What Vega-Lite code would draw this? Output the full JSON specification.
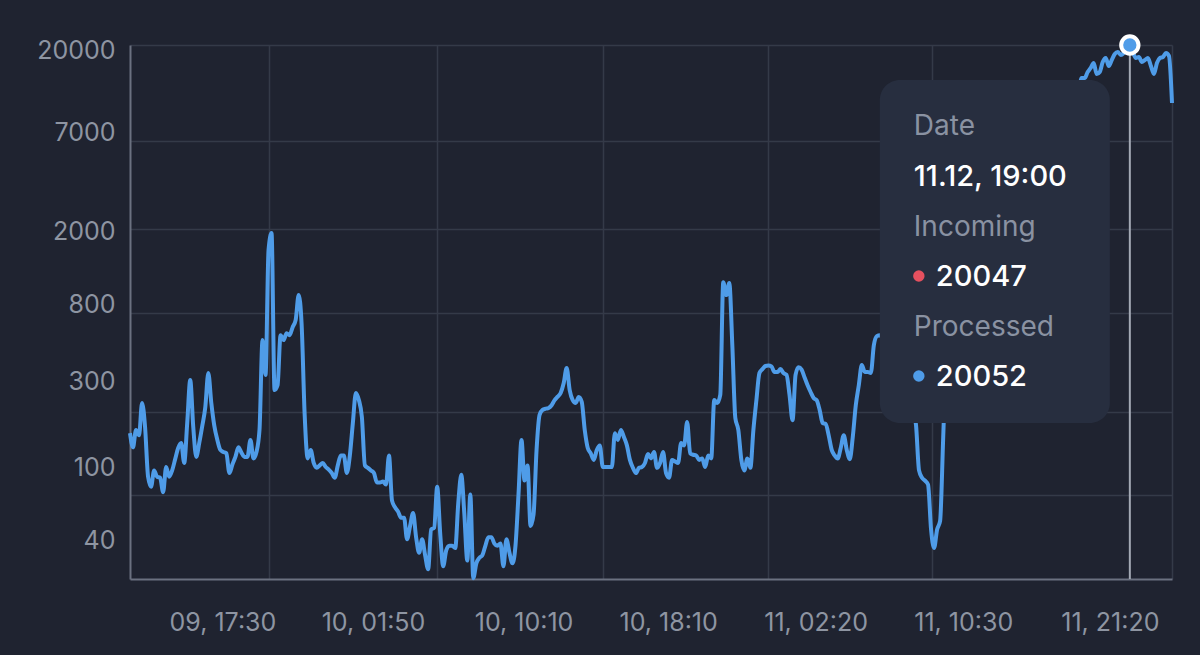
{
  "$schema": "https://vega.github.io/schema/vega-lite/v6.json",
  "width": 1042,
  "height": 534,
  "autosize": "none",
  "padding": {"left": 130, "top": 45, "right": 28, "bottom": 76},
  "background": "#1f2330",
  "config": {
    "view": {"stroke": null},
    "font": "Inter",
    "axis": {
      "labelFont": "Inter",
      "labelFontSize": 25,
      "labelColor": "#8e95a2",
      "gridColor": "#343a48",
      "gridWidth": 1.5,
      "domainColor": "#6b7180",
      "domainWidth": 2,
      "ticks": false,
      "tickSize": 0,
      "title": null
    }
  },
  "datasets": {
    "processed": [
      {"t": "2023-12-09T11:40", "v": 146}, {"t": "2023-12-09T11:50", "v": 122}, {"t": "2023-12-09T12:00", "v": 152},
      {"t": "2023-12-09T12:10", "v": 142}, {"t": "2023-12-09T12:20", "v": 214}, {"t": "2023-12-09T12:30", "v": 158},
      {"t": "2023-12-09T12:40", "v": 84}, {"t": "2023-12-09T12:50", "v": 74}, {"t": "2023-12-09T13:00", "v": 91},
      {"t": "2023-12-09T13:10", "v": 84}, {"t": "2023-12-09T13:20", "v": 83}, {"t": "2023-12-09T13:30", "v": 69},
      {"t": "2023-12-09T13:40", "v": 95}, {"t": "2023-12-09T13:50", "v": 84}, {"t": "2023-12-09T14:00", "v": 91},
      {"t": "2023-12-09T14:10", "v": 105}, {"t": "2023-12-09T14:20", "v": 121}, {"t": "2023-12-09T14:30", "v": 129},
      {"t": "2023-12-09T14:40", "v": 100}, {"t": "2023-12-09T14:50", "v": 166}, {"t": "2023-12-09T15:00", "v": 286},
      {"t": "2023-12-09T15:10", "v": 158}, {"t": "2023-12-09T15:20", "v": 108}, {"t": "2023-12-09T15:30", "v": 129},
      {"t": "2023-12-09T15:40", "v": 160}, {"t": "2023-12-09T15:50", "v": 203}, {"t": "2023-12-09T16:00", "v": 313},
      {"t": "2023-12-09T16:10", "v": 214}, {"t": "2023-12-09T16:20", "v": 160}, {"t": "2023-12-09T16:30", "v": 134},
      {"t": "2023-12-09T16:40", "v": 118}, {"t": "2023-12-09T16:50", "v": 115}, {"t": "2023-12-09T17:00", "v": 113},
      {"t": "2023-12-09T17:10", "v": 88}, {"t": "2023-12-09T17:20", "v": 98}, {"t": "2023-12-09T17:30", "v": 108},
      {"t": "2023-12-09T17:40", "v": 122}, {"t": "2023-12-09T17:50", "v": 114}, {"t": "2023-12-09T18:00", "v": 108},
      {"t": "2023-12-09T18:10", "v": 108}, {"t": "2023-12-09T18:20", "v": 134}, {"t": "2023-12-09T18:30", "v": 106},
      {"t": "2023-12-09T18:40", "v": 115}, {"t": "2023-12-09T18:50", "v": 152}, {"t": "2023-12-09T19:00", "v": 475},
      {"t": "2023-12-09T19:10", "v": 305}, {"t": "2023-12-09T19:20", "v": 1488}, {"t": "2023-12-09T19:30", "v": 1847},
      {"t": "2023-12-09T19:40", "v": 252}, {"t": "2023-12-09T19:50", "v": 268}, {"t": "2023-12-09T20:00", "v": 506},
      {"t": "2023-12-09T20:10", "v": 475}, {"t": "2023-12-09T20:20", "v": 519}, {"t": "2023-12-09T20:30", "v": 506},
      {"t": "2023-12-09T20:40", "v": 560}, {"t": "2023-12-09T20:50", "v": 612}, {"t": "2023-12-09T21:00", "v": 841},
      {"t": "2023-12-09T21:10", "v": 575}, {"t": "2023-12-09T21:20", "v": 184}, {"t": "2023-12-09T21:30", "v": 106},
      {"t": "2023-12-09T21:40", "v": 118}, {"t": "2023-12-09T21:50", "v": 100}, {"t": "2023-12-09T22:00", "v": 94},
      {"t": "2023-12-09T22:10", "v": 97}, {"t": "2023-12-09T22:20", "v": 100}, {"t": "2023-12-09T22:30", "v": 95},
      {"t": "2023-12-09T22:40", "v": 92}, {"t": "2023-12-09T22:50", "v": 88}, {"t": "2023-12-09T23:00", "v": 83},
      {"t": "2023-12-09T23:10", "v": 97}, {"t": "2023-12-09T23:20", "v": 110}, {"t": "2023-12-09T23:30", "v": 110},
      {"t": "2023-12-09T23:40", "v": 88}, {"t": "2023-12-09T23:50", "v": 110},
      {"t": "2023-12-10T00:00", "v": 166}, {"t": "2023-12-10T00:10", "v": 243}, {"t": "2023-12-10T00:20", "v": 222},
      {"t": "2023-12-10T00:30", "v": 179}, {"t": "2023-12-10T00:40", "v": 97}, {"t": "2023-12-10T00:50", "v": 94},
      {"t": "2023-12-10T01:00", "v": 91}, {"t": "2023-12-10T01:10", "v": 88}, {"t": "2023-12-10T01:20", "v": 78},
      {"t": "2023-12-10T01:30", "v": 78}, {"t": "2023-12-10T01:40", "v": 79}, {"t": "2023-12-10T01:50", "v": 76},
      {"t": "2023-12-10T02:00", "v": 110}, {"t": "2023-12-10T02:10", "v": 62}, {"t": "2023-12-10T02:20", "v": 57},
      {"t": "2023-12-10T02:30", "v": 54}, {"t": "2023-12-10T02:40", "v": 50}, {"t": "2023-12-10T02:50", "v": 50},
      {"t": "2023-12-10T03:00", "v": 38}, {"t": "2023-12-10T03:10", "v": 45}, {"t": "2023-12-10T03:20", "v": 53},
      {"t": "2023-12-10T03:30", "v": 39}, {"t": "2023-12-10T03:40", "v": 32}, {"t": "2023-12-10T03:50", "v": 38},
      {"t": "2023-12-10T04:00", "v": 31}, {"t": "2023-12-10T04:10", "v": 26}, {"t": "2023-12-10T04:20", "v": 43},
      {"t": "2023-12-10T04:30", "v": 44}, {"t": "2023-12-10T04:40", "v": 74}, {"t": "2023-12-10T04:50", "v": 41},
      {"t": "2023-12-10T05:00", "v": 27}, {"t": "2023-12-10T05:10", "v": 33}, {"t": "2023-12-10T05:20", "v": 35},
      {"t": "2023-12-10T05:30", "v": 35}, {"t": "2023-12-10T05:40", "v": 34}, {"t": "2023-12-10T05:50", "v": 60},
      {"t": "2023-12-10T06:00", "v": 86}, {"t": "2023-12-10T06:10", "v": 53}, {"t": "2023-12-10T06:20", "v": 29},
      {"t": "2023-12-10T06:30", "v": 67}, {"t": "2023-12-10T06:40", "v": 23.2}, {"t": "2023-12-10T06:50", "v": 28},
      {"t": "2023-12-10T07:00", "v": 30}, {"t": "2023-12-10T07:10", "v": 31}, {"t": "2023-12-10T07:20", "v": 35},
      {"t": "2023-12-10T07:30", "v": 39}, {"t": "2023-12-10T07:40", "v": 39}, {"t": "2023-12-10T07:50", "v": 36},
      {"t": "2023-12-10T08:00", "v": 35}, {"t": "2023-12-10T08:10", "v": 36}, {"t": "2023-12-10T08:20", "v": 27},
      {"t": "2023-12-10T08:30", "v": 38}, {"t": "2023-12-10T08:40", "v": 32}, {"t": "2023-12-10T08:50", "v": 28},
      {"t": "2023-12-10T09:00", "v": 35}, {"t": "2023-12-10T09:10", "v": 67}, {"t": "2023-12-10T09:20", "v": 134},
      {"t": "2023-12-10T09:30", "v": 80}, {"t": "2023-12-10T09:40", "v": 97}, {"t": "2023-12-10T09:50", "v": 45},
      {"t": "2023-12-10T10:00", "v": 52}, {"t": "2023-12-10T10:10", "v": 118}, {"t": "2023-12-10T10:20", "v": 184},
      {"t": "2023-12-10T10:30", "v": 196}, {"t": "2023-12-10T10:40", "v": 199}, {"t": "2023-12-10T10:50", "v": 201},
      {"t": "2023-12-10T11:00", "v": 208}, {"t": "2023-12-10T11:10", "v": 222}, {"t": "2023-12-10T11:20", "v": 232},
      {"t": "2023-12-10T11:30", "v": 243}, {"t": "2023-12-10T11:40", "v": 275}, {"t": "2023-12-10T11:50", "v": 333},
      {"t": "2023-12-10T12:00", "v": 252}, {"t": "2023-12-10T12:10", "v": 222}, {"t": "2023-12-10T12:20", "v": 214},
      {"t": "2023-12-10T12:30", "v": 231}, {"t": "2023-12-10T12:40", "v": 217}, {"t": "2023-12-10T12:50", "v": 152},
      {"t": "2023-12-10T13:00", "v": 121}, {"t": "2023-12-10T13:10", "v": 113}, {"t": "2023-12-10T13:20", "v": 104},
      {"t": "2023-12-10T13:30", "v": 118}, {"t": "2023-12-10T13:40", "v": 125}, {"t": "2023-12-10T13:50", "v": 95},
      {"t": "2023-12-10T14:00", "v": 95}, {"t": "2023-12-10T14:10", "v": 95}, {"t": "2023-12-10T14:20", "v": 95},
      {"t": "2023-12-10T14:30", "v": 146}, {"t": "2023-12-10T14:40", "v": 134}, {"t": "2023-12-10T14:50", "v": 152},
      {"t": "2023-12-10T15:00", "v": 139}, {"t": "2023-12-10T15:10", "v": 125}, {"t": "2023-12-10T15:20", "v": 104},
      {"t": "2023-12-10T15:30", "v": 94}, {"t": "2023-12-10T15:40", "v": 88}, {"t": "2023-12-10T15:50", "v": 94},
      {"t": "2023-12-10T16:00", "v": 95}, {"t": "2023-12-10T16:10", "v": 100}, {"t": "2023-12-10T16:20", "v": 112},
      {"t": "2023-12-10T16:30", "v": 106}, {"t": "2023-12-10T16:40", "v": 115}, {"t": "2023-12-10T16:50", "v": 94},
      {"t": "2023-12-10T17:00", "v": 100}, {"t": "2023-12-10T17:10", "v": 115}, {"t": "2023-12-10T17:20", "v": 88},
      {"t": "2023-12-10T17:30", "v": 83}, {"t": "2023-12-10T17:40", "v": 104}, {"t": "2023-12-10T17:50", "v": 102},
      {"t": "2023-12-10T18:00", "v": 100}, {"t": "2023-12-10T18:10", "v": 129}, {"t": "2023-12-10T18:20", "v": 125},
      {"t": "2023-12-10T18:30", "v": 168}, {"t": "2023-12-10T18:40", "v": 113}, {"t": "2023-12-10T18:50", "v": 111},
      {"t": "2023-12-10T19:00", "v": 110}, {"t": "2023-12-10T19:10", "v": 104}, {"t": "2023-12-10T19:20", "v": 106},
      {"t": "2023-12-10T19:30", "v": 95}, {"t": "2023-12-10T19:40", "v": 110}, {"t": "2023-12-10T19:50", "v": 106},
      {"t": "2023-12-10T20:00", "v": 222}, {"t": "2023-12-10T20:10", "v": 214}, {"t": "2023-12-10T20:20", "v": 237},
      {"t": "2023-12-10T20:30", "v": 991}, {"t": "2023-12-10T20:40", "v": 841}, {"t": "2023-12-10T20:50", "v": 979},
      {"t": "2023-12-10T21:00", "v": 446}, {"t": "2023-12-10T21:10", "v": 177}, {"t": "2023-12-10T21:20", "v": 152},
      {"t": "2023-12-10T21:30", "v": 104}, {"t": "2023-12-10T21:40", "v": 91}, {"t": "2023-12-10T21:50", "v": 106},
      {"t": "2023-12-10T22:00", "v": 94}, {"t": "2023-12-10T22:10", "v": 152}, {"t": "2023-12-10T22:20", "v": 222},
      {"t": "2023-12-10T22:30", "v": 313}, {"t": "2023-12-10T22:40", "v": 329}, {"t": "2023-12-10T22:50", "v": 342},
      {"t": "2023-12-10T23:00", "v": 344}, {"t": "2023-12-10T23:10", "v": 340}, {"t": "2023-12-10T23:20", "v": 317},
      {"t": "2023-12-10T23:30", "v": 317}, {"t": "2023-12-10T23:40", "v": 329}, {"t": "2023-12-10T23:50", "v": 313},
      {"t": "2023-12-11T00:00", "v": 306}, {"t": "2023-12-11T00:10", "v": 237}, {"t": "2023-12-11T00:20", "v": 172},
      {"t": "2023-12-11T00:30", "v": 306}, {"t": "2023-12-11T00:40", "v": 337}, {"t": "2023-12-11T00:50", "v": 327},
      {"t": "2023-12-11T01:00", "v": 296}, {"t": "2023-12-11T01:10", "v": 268}, {"t": "2023-12-11T01:20", "v": 246},
      {"t": "2023-12-11T01:30", "v": 228}, {"t": "2023-12-11T01:40", "v": 222}, {"t": "2023-12-11T01:50", "v": 196},
      {"t": "2023-12-11T02:00", "v": 166}, {"t": "2023-12-11T02:10", "v": 164}, {"t": "2023-12-11T02:20", "v": 142},
      {"t": "2023-12-11T02:30", "v": 118}, {"t": "2023-12-11T02:40", "v": 110}, {"t": "2023-12-11T02:50", "v": 106},
      {"t": "2023-12-11T03:00", "v": 121}, {"t": "2023-12-11T03:10", "v": 142}, {"t": "2023-12-11T03:20", "v": 118},
      {"t": "2023-12-11T03:30", "v": 105}, {"t": "2023-12-11T03:40", "v": 139}, {"t": "2023-12-11T03:50", "v": 208},
      {"t": "2023-12-11T04:00", "v": 268}, {"t": "2023-12-11T04:10", "v": 346}, {"t": "2023-12-11T04:20", "v": 317},
      {"t": "2023-12-11T04:30", "v": 317}, {"t": "2023-12-11T04:40", "v": 313}, {"t": "2023-12-11T04:50", "v": 446},
      {"t": "2023-12-11T05:00", "v": 500}, {"t": "2023-12-11T05:10", "v": 506}, {"t": "2023-12-11T05:20", "v": 480},
      {"t": "2023-12-11T05:30", "v": 430}, {"t": "2023-12-11T05:40", "v": 470}, {"t": "2023-12-11T05:50", "v": 400},
      {"t": "2023-12-11T06:00", "v": 430}, {"t": "2023-12-11T06:10", "v": 360}, {"t": "2023-12-11T06:20", "v": 380},
      {"t": "2023-12-11T06:30", "v": 330}, {"t": "2023-12-11T06:40", "v": 300}, {"t": "2023-12-11T06:50", "v": 250},
      {"t": "2023-12-11T07:00", "v": 200}, {"t": "2023-12-11T07:10", "v": 162}, {"t": "2023-12-11T07:20", "v": 91},
      {"t": "2023-12-11T07:30", "v": 83}, {"t": "2023-12-11T07:40", "v": 80}, {"t": "2023-12-11T07:50", "v": 76},
      {"t": "2023-12-11T08:00", "v": 43}, {"t": "2023-12-11T08:10", "v": 34}, {"t": "2023-12-11T08:20", "v": 43},
      {"t": "2023-12-11T08:30", "v": 48}, {"t": "2023-12-11T08:40", "v": 134}, {"t": "2023-12-11T08:50", "v": 400},
      {"t": "2023-12-11T09:00", "v": 900}, {"t": "2023-12-11T09:10", "v": 1400}, {"t": "2023-12-11T09:20", "v": 1800},
      {"t": "2023-12-11T09:30", "v": 1700}, {"t": "2023-12-11T09:40", "v": 2200}, {"t": "2023-12-11T09:50", "v": 2600},
      {"t": "2023-12-11T10:00", "v": 2400}, {"t": "2023-12-11T10:10", "v": 3000}, {"t": "2023-12-11T10:20", "v": 3500},
      {"t": "2023-12-11T10:30", "v": 3300}, {"t": "2023-12-11T10:40", "v": 3900}, {"t": "2023-12-11T10:50", "v": 4300},
      {"t": "2023-12-11T11:00", "v": 4100}, {"t": "2023-12-11T11:10", "v": 4700}, {"t": "2023-12-11T11:20", "v": 5200},
      {"t": "2023-12-11T11:30", "v": 5000}, {"t": "2023-12-11T11:40", "v": 5600}, {"t": "2023-12-11T11:50", "v": 6100},
      {"t": "2023-12-11T12:00", "v": 5900}, {"t": "2023-12-11T12:10", "v": 6500}, {"t": "2023-12-11T12:20", "v": 7000},
      {"t": "2023-12-11T12:30", "v": 6800}, {"t": "2023-12-11T12:40", "v": 7400}, {"t": "2023-12-11T12:50", "v": 7900},
      {"t": "2023-12-11T13:00", "v": 7600}, {"t": "2023-12-11T13:10", "v": 8200}, {"t": "2023-12-11T13:20", "v": 8700},
      {"t": "2023-12-11T13:30", "v": 8400}, {"t": "2023-12-11T13:40", "v": 9000}, {"t": "2023-12-11T13:50", "v": 9400},
      {"t": "2023-12-11T14:00", "v": 9100}, {"t": "2023-12-11T14:10", "v": 9700}, {"t": "2023-12-11T14:20", "v": 10100},
      {"t": "2023-12-11T14:30", "v": 9800}, {"t": "2023-12-11T14:40", "v": 10300}, {"t": "2023-12-11T14:50", "v": 10700},
      {"t": "2023-12-11T15:00", "v": 10400}, {"t": "2023-12-11T15:10", "v": 10900}, {"t": "2023-12-11T15:20", "v": 11200},
      {"t": "2023-12-11T15:30", "v": 10900}, {"t": "2023-12-11T15:40", "v": 11400}, {"t": "2023-12-11T15:50", "v": 11600},
      {"t": "2023-12-11T16:00", "v": 11200}, {"t": "2023-12-11T16:10", "v": 11330}, {"t": "2023-12-11T16:20", "v": 13192},
      {"t": "2023-12-11T16:30", "v": 13192}, {"t": "2023-12-11T16:40", "v": 14231}, {"t": "2023-12-11T16:50", "v": 14983},
      {"t": "2023-12-11T17:00", "v": 15958}, {"t": "2023-12-11T17:10", "v": 13870}, {"t": "2023-12-11T17:20", "v": 14231},
      {"t": "2023-12-11T17:30", "v": 16163}, {"t": "2023-12-11T17:40", "v": 17000}, {"t": "2023-12-11T17:50", "v": 15360},
      {"t": "2023-12-11T18:00", "v": 16581}, {"t": "2023-12-11T18:10", "v": 17890}, {"t": "2023-12-11T18:20", "v": 18350},
      {"t": "2023-12-11T18:30", "v": 17664}, {"t": "2023-12-11T18:40", "v": 18119}, {"t": "2023-12-11T18:50", "v": 19059},
      {"t": "2023-12-11T19:00", "v": 20052}, {"t": "2023-12-11T19:10", "v": 18350}, {"t": "2023-12-11T19:20", "v": 17000},
      {"t": "2023-12-11T19:30", "v": 17219}, {"t": "2023-12-11T19:40", "v": 16163}, {"t": "2023-12-11T19:50", "v": 16581},
      {"t": "2023-12-11T20:00", "v": 17000}, {"t": "2023-12-11T20:10", "v": 15360}, {"t": "2023-12-11T20:20", "v": 13870},
      {"t": "2023-12-11T20:30", "v": 15958}, {"t": "2023-12-11T20:40", "v": 17000}, {"t": "2023-12-11T20:50", "v": 17219},
      {"t": "2023-12-11T21:00", "v": 18119}, {"t": "2023-12-11T21:10", "v": 17440}, {"t": "2023-12-11T21:20", "v": 9609}
    ],
    "hover": [
      {"date": "2023-12-11T19:00", "incoming": 20047, "processed": 20052}
    ]
  },
  "layer": [
    {
      "data": {"name": "processed"},
      "mark": {"type": "line", "color": "#4f9ce8", "strokeWidth": 4, "interpolate": "monotone"},
      "encoding": {
        "x": {
          "field": "t", "type": "temporal",
          "scale": {"type": "time", "domain": [{"year": 2023, "month": 12, "date": 9, "hours": 11, "minutes": 40}, {"year": 2023, "month": 12, "date": 11, "hours": 21, "minutes": 20}]},
          "axis": {
            "orient": "bottom", "grid": true, "labels": false, "domain": true,
            "values": [
              {"year": 2023, "month": 12, "date": 9, "hours": 19, "minutes": 21, "seconds": 30},
              {"year": 2023, "month": 12, "date": 10, "hours": 4, "minutes": 39, "seconds": 24},
              {"year": 2023, "month": 12, "date": 10, "hours": 13, "minutes": 50, "seconds": 36},
              {"year": 2023, "month": 12, "date": 10, "hours": 22, "minutes": 58, "seconds": 24},
              {"year": 2023, "month": 12, "date": 11, "hours": 8, "minutes": 3},
              {"year": 2023, "month": 12, "date": 11, "hours": 21, "minutes": 20}
            ]
          }
        },
        "y": {
          "field": "v", "type": "quantitative",
          "scale": {"type": "log", "domain": [22.96, 20052], "nice": false},
          "axis": {"orient": "left", "grid": true, "labels": false, "domain": true, "values": [66.6, 190.8, 670, 1944, 5935, 20052]}
        }
      }
    },
    {
      "data": {"name": "hover"},
      "mark": {"type": "rule", "color": "#a3a9b4", "strokeWidth": 2},
      "encoding": {
        "x": {
          "field": "date", "type": "temporal",
          "scale": {"type": "time", "domain": [{"year": 2023, "month": 12, "date": 9, "hours": 11, "minutes": 40}, {"year": 2023, "month": 12, "date": 11, "hours": 21, "minutes": 20}]},
          "axis": null
        }
      }
    },
    {
      "data": {"name": "hover"},
      "mark": {"type": "circle", "fill": "#4f9ce8", "stroke": "#ffffff", "strokeWidth": 4, "size": 300, "opacity": 1},
      "encoding": {
        "x": {
          "field": "date", "type": "temporal",
          "scale": {"type": "time", "domain": [{"year": 2023, "month": 12, "date": 9, "hours": 11, "minutes": 40}, {"year": 2023, "month": 12, "date": 11, "hours": 21, "minutes": 20}]},
          "axis": {
            "orient": "bottom", "grid": false, "domain": false, "format": "%d, %H:%M", "formatType": "time",
            "labelOffset": -13, "labelFlush": true, "labelPadding": 31, "labelOverlap": false,
            "values": [
              {"year": 2023, "month": 12, "date": 9, "hours": 17, "minutes": 30},
              {"year": 2023, "month": 12, "date": 10, "hours": 1, "minutes": 50},
              {"year": 2023, "month": 12, "date": 10, "hours": 10, "minutes": 10},
              {"year": 2023, "month": 12, "date": 10, "hours": 18, "minutes": 10},
              {"year": 2023, "month": 12, "date": 11, "hours": 2, "minutes": 20},
              {"year": 2023, "month": 12, "date": 11, "hours": 10, "minutes": 30},
              {"year": 2023, "month": 12, "date": 11, "hours": 21, "minutes": 20}
            ]
          }
        },
        "y": {
          "field": "processed", "type": "quantitative",
          "scale": {"type": "log", "domain": [22.96, 20052], "nice": false},
          "axis": {
            "orient": "left", "grid": false, "domain": false, "format": "d",
            "labelOffset": 5, "labelPadding": 15, "labelOverlap": false,
            "values": [40, 100, 300, 800, 2000, 7000, 20000]
          }
        }
      }
    },
    {
      "data": {"name": "hover"},
      "layer": [
        {
          "mark": {"type": "rect", "fill": "#272e3f", "cornerRadius": 20, "xOffset": -250, "x2Offset": -20, "yOffset": 35, "y2Offset": 378},
          "encoding": {"x2": {"field": "date"}, "y2": {"field": "processed"}}
        },
        {
          "mark": {"type": "text", "text": "Date", "align": "left", "baseline": "middle", "dx": -216, "dy": 82, "fontSize": 28, "color": "#8a92a2"}
        },
        {
          "mark": {"type": "text", "align": "left", "baseline": "middle", "dx": -216, "dy": 132, "fontSize": 29, "fontWeight": 500, "color": "#ffffff"},
          "encoding": {"text": {"field": "date", "type": "temporal", "format": "%d.%m, %H:%M"}}
        },
        {
          "mark": {"type": "text", "text": "Incoming", "align": "left", "baseline": "middle", "dx": -216, "dy": 183, "fontSize": 28, "color": "#8a92a2"}
        },
        {
          "mark": {"type": "circle", "fill": "#e5505f", "size": 130, "opacity": 1, "xOffset": -211, "yOffset": 231}
        },
        {
          "mark": {"type": "text", "align": "left", "baseline": "middle", "dx": -194, "dy": 232, "fontSize": 29, "fontWeight": 500, "color": "#ffffff"},
          "encoding": {"text": {"field": "incoming", "type": "quantitative", "format": "d"}}
        },
        {
          "mark": {"type": "text", "text": "Processed", "align": "left", "baseline": "middle", "dx": -216, "dy": 283, "fontSize": 28, "color": "#8a92a2"}
        },
        {
          "mark": {"type": "circle", "fill": "#4f9ce8", "size": 130, "opacity": 1, "xOffset": -211, "yOffset": 331}
        },
        {
          "mark": {"type": "text", "align": "left", "baseline": "middle", "dx": -194, "dy": 332, "fontSize": 29, "fontWeight": 500, "color": "#ffffff"},
          "encoding": {"text": {"field": "processed", "type": "quantitative", "format": "d"}}
        }
      ],
      "encoding": {
        "x": {
          "field": "date", "type": "temporal",
          "scale": {"type": "time", "domain": [{"year": 2023, "month": 12, "date": 9, "hours": 11, "minutes": 40}, {"year": 2023, "month": 12, "date": 11, "hours": 21, "minutes": 20}]},
          "axis": null
        },
        "y": {
          "field": "processed", "type": "quantitative",
          "scale": {"type": "log", "domain": [22.96, 20052], "nice": false},
          "axis": null
        }
      }
    }
  ],
  "resolve": {"axis": {"x": "independent", "y": "independent"}}
}
